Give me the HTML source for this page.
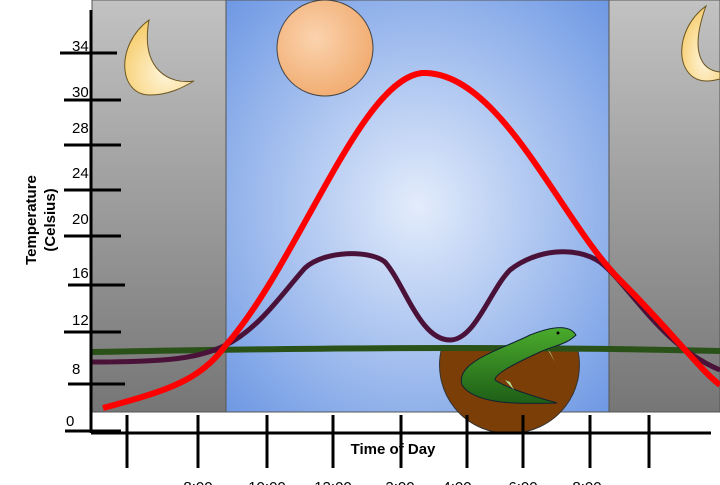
<!DOCTYPE html>
<html><head><style>body{margin:0;background:#fff}svg{display:block}text{font-family:"Liberation Sans",sans-serif}</style></head><body>
<svg width="720" height="485" viewBox="0 0 720 485">
<defs>
<linearGradient id="gr" x1="0" y1="0" x2="0" y2="1"><stop offset="0" stop-color="#c2c2c2"/><stop offset="1" stop-color="#767676"/></linearGradient>
<radialGradient id="bl" cx="0.5" cy="0.5" r="0.7"><stop offset="0" stop-color="#e3ecfb"/><stop offset="1" stop-color="#6f99e4"/></radialGradient>
<radialGradient id="sun" cx="0.4" cy="0.4" r="0.7"><stop offset="0" stop-color="#fbd3ae"/><stop offset="1" stop-color="#f0a86a"/></radialGradient>
<radialGradient id="moon" cx="0.6" cy="0.7" r="0.8"><stop offset="0" stop-color="#fff6dc"/><stop offset="1" stop-color="#f6c860"/></radialGradient>
<linearGradient id="liz" x1="0" y1="0" x2="0" y2="1"><stop offset="0" stop-color="#4aab2c"/><stop offset="1" stop-color="#1e5e17"/></linearGradient>
</defs>
<rect x="92" y="0" width="134" height="412" fill="url(#gr)" stroke="#555" stroke-width="1"/>
<rect x="226" y="0" width="383" height="412" fill="url(#bl)" stroke="#555" stroke-width="1"/>
<rect x="609" y="0" width="111" height="412" fill="url(#gr)" stroke="#555" stroke-width="1"/>
<circle cx="325" cy="48" r="48" fill="url(#sun)" stroke="#444" stroke-width="1"/>
<path d="M149,20 C115,45 118,95 150,95 C168,95 182,88 194,81 C170,85 140,70 149,20Z" fill="url(#moon)" stroke="#6b5520" stroke-width="1"/>
<path d="M706,6 C672,31 675,81 707,81 C712,81 716,80 720,79 L720,72 C700,70 690,50 706,6Z" fill="url(#moon)" stroke="#6b5520" stroke-width="1"/>
<path d="M442,347 L577,347 A68,68 0 0 1 512,433 A68,68 0 0 1 442,347Z" fill="#7a3e06" stroke="#333" stroke-width="1"/>
<path d="M92,352 C300,348 500,346 720,351" fill="none" stroke="#2a5218" stroke-width="6"/>
<path d="M92,362 C170,362 200,358 226,345 C260,328 285,290 305,268 C325,250 370,250 385,262 C405,285 420,340 450,340 C475,340 490,290 510,270 C535,250 575,245 600,262 C630,285 660,345 720,370" fill="none" stroke="#4a1238" stroke-width="5"/>
<path d="M103,408 C170,390 200,380 226,345 C300,260 360,80 422,73 C500,70 560,220 620,280 C670,330 700,370 720,385" fill="none" stroke="#ff0000" stroke-width="6"/>
<path d="M462,385 C455,362 500,350 530,335 C555,325 570,325 576,335 C566,345 555,345 540,352 C505,368 495,375 495,380 C510,390 540,398 557,403 C520,404 475,405 462,385Z" fill="url(#liz)" stroke="#123" stroke-width="1"/>
<circle cx="558" cy="333" r="1.5" fill="#000"/>
<path d="M548,350 L555,362 L550,352Z" fill="#b6e39c"/>
<path d="M505,380 L514,390 L510,382Z" fill="#b6e39c"/>
<g stroke="#000" stroke-width="3" fill="none">
<line x1="91" y1="10" x2="91" y2="433"/>
<line x1="91" y1="433" x2="711" y2="433"/>
<line x1="60" y1="53" x2="117" y2="53"/>
<line x1="64" y1="100" x2="121" y2="100"/>
<line x1="64" y1="145" x2="121" y2="145"/>
<line x1="64" y1="190" x2="121" y2="190"/>
<line x1="64" y1="236" x2="121" y2="236"/>
<line x1="68" y1="285" x2="125" y2="285"/>
<line x1="64" y1="332" x2="121" y2="332"/>
<line x1="68" y1="384" x2="125" y2="384"/>
<line x1="65" y1="431" x2="121" y2="431"/>
<line x1="127" y1="415" x2="127" y2="468"/>
<line x1="198" y1="415" x2="198" y2="468"/>
<line x1="267" y1="415" x2="267" y2="468"/>
<line x1="333" y1="415" x2="333" y2="468"/>
<line x1="401" y1="415" x2="401" y2="468"/>
<line x1="467" y1="415" x2="467" y2="468"/>
<line x1="523" y1="415" x2="523" y2="468"/>
<line x1="590" y1="415" x2="590" y2="468"/>
<line x1="649" y1="415" x2="649" y2="468"/>
</g>
<g font-size="15" fill="#000">
<text x="72" y="51">34</text><text x="72" y="97">30</text><text x="72" y="133">28</text><text x="72" y="178">24</text><text x="72" y="224">20</text><text x="72" y="278">16</text><text x="72" y="325">12</text><text x="72" y="374">8</text><text x="66" y="426">0</text>
<g text-anchor="middle"><text x="198" y="492">8:00</text><text x="267" y="492">10:00</text><text x="333" y="492">12:00</text><text x="400" y="492">2:00</text><text x="457" y="492">4:00</text><text x="523" y="492">6:00</text><text x="587" y="492">8:00</text></g>
</g>
<text x="393" y="454" font-size="15" font-weight="bold" text-anchor="middle">Time of Day</text>
<text transform="translate(36,220) rotate(-90)" font-size="15" font-weight="bold" text-anchor="middle">Temperature</text>
<text transform="translate(55,220) rotate(-90)" font-size="15" font-weight="bold" text-anchor="middle">(Celsius)</text>
</svg>
</body></html>
